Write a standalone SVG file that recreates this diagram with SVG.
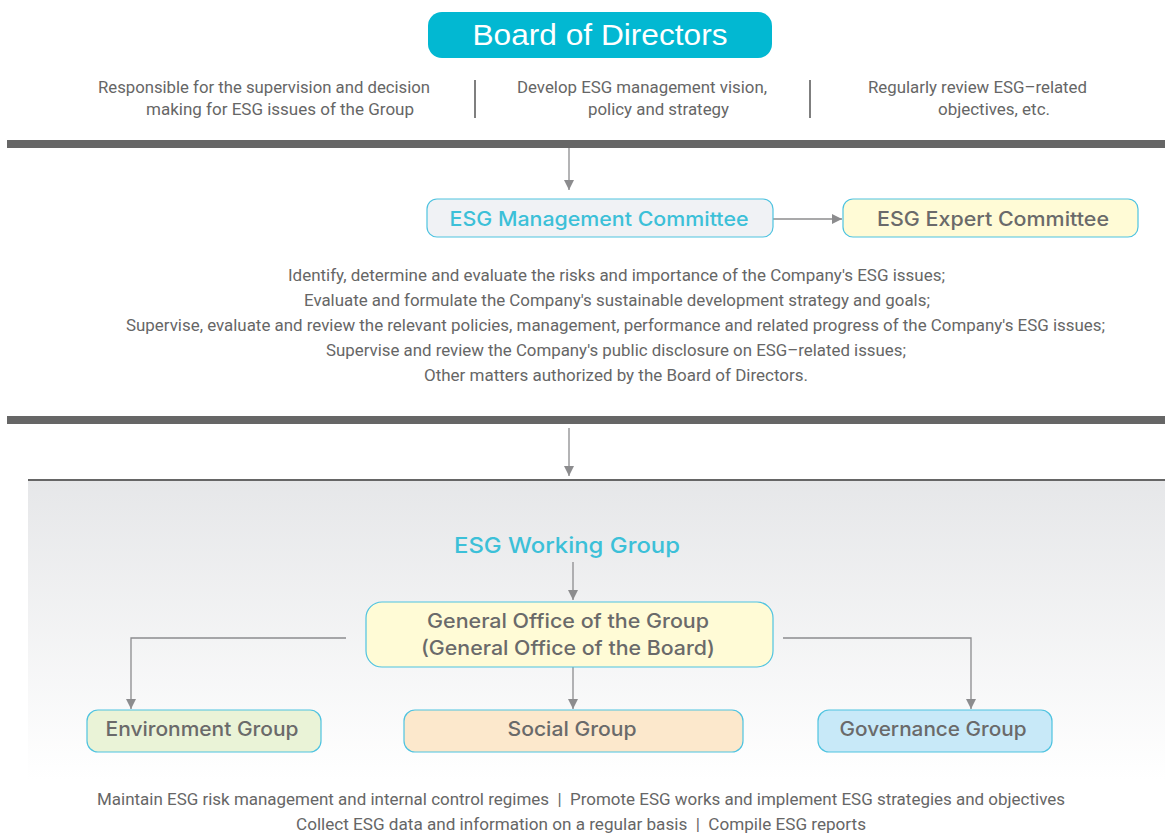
<svg xmlns="http://www.w3.org/2000/svg" width="1165" height="834" viewBox="0 0 1165 834">
<defs>
<linearGradient id="bg" x1="0" y1="0" x2="0" y2="1">
<stop offset="0" stop-color="#e6e7e9"/>
<stop offset="1" stop-color="#ffffff"/>
</linearGradient>
<marker id="ah" viewBox="0 0 10 10" refX="10" refY="5" markerWidth="10" markerHeight="10" markerUnits="userSpaceOnUse" orient="auto">
<path d="M0,0 L10,5 L0,10 z" fill="#8c8c8e"/>
</marker>
<style>
.desc{font-family:Roboto,"Liberation Sans",sans-serif;font-size:16px;fill:#666;}
.box{stroke:#4fc3e0;stroke-width:1.2;}
.lbl{font-family:Inter,"Liberation Sans",Arial,sans-serif;font-size:20px;font-weight:500;fill:#6a6a6a;text-anchor:middle;}
.teal{fill:#3cc0d8;}
.conn{fill:none;stroke:#8c8c8e;stroke-width:1.3;}
.sep{stroke:#555;stroke-width:1.5;}
</style>
</defs>
<rect x="28" y="480" width="1137" height="300" fill="url(#bg)"/>
<line x1="28" y1="480" x2="1165" y2="480" stroke="#666" stroke-width="2"/>
<rect x="7" y="140" width="1158" height="8" fill="#666"/>
<rect x="7" y="416" width="1158" height="8" fill="#666"/>

<g id="connectors">
<line class="conn" x1="569" y1="148" x2="569" y2="190" marker-end="url(#ah)"/>
<line class="conn" x1="773" y1="219" x2="842" y2="219" marker-end="url(#ah)"/>
<line class="conn" x1="569" y1="428" x2="569" y2="476" marker-end="url(#ah)"/>
<line class="conn" x1="573" y1="562" x2="573" y2="600" marker-end="url(#ah)"/>
<polyline class="conn" points="346,638 131,638 131,709" marker-end="url(#ah)"/>
<polyline class="conn" points="783,638 971,638 971,709" marker-end="url(#ah)"/>
<line class="conn" x1="573" y1="667" x2="573" y2="709" marker-end="url(#ah)"/>
</g>

<g id="board">
<rect x="428" y="12" width="344" height="46" rx="14" fill="#02b8d2"/>
<text x="600" y="45" text-anchor="middle" font-family="'Liberation Sans',Arial,sans-serif" font-size="29" fill="#fff" textLength="255" lengthAdjust="spacingAndGlyphs">Board of Directors</text>
</g>
<g id="board-desc">
<text class="desc" x="98" y="93" textLength="332" lengthAdjust="spacingAndGlyphs">Responsible for the supervision and decision</text>
<text class="desc" x="146" y="115" textLength="268" lengthAdjust="spacingAndGlyphs">making for ESG issues of the Group</text>
<line class="sep" x1="475" y1="80" x2="475" y2="118"/>
<text class="desc" x="517" y="93" textLength="250" lengthAdjust="spacingAndGlyphs">Develop ESG management vision,</text>
<text class="desc" x="588" y="115" textLength="141" lengthAdjust="spacingAndGlyphs">policy and strategy</text>
<line class="sep" x1="810" y1="80" x2="810" y2="118"/>
<text class="desc" x="868" y="93" textLength="219" lengthAdjust="spacingAndGlyphs">Regularly review ESG–related</text>
<text class="desc" x="938" y="115" textLength="112" lengthAdjust="spacingAndGlyphs">objectives, etc.</text>
</g>

<g id="mgmt">
<rect class="box" x="427" y="199" width="346" height="38" rx="10" fill="#f0f2f5"/>
<text class="lbl teal" x="599" y="226" textLength="299" lengthAdjust="spacingAndGlyphs">ESG Management Committee</text>
</g>
<g id="expert">
<rect class="box" x="843" y="199" width="295" height="38" rx="10" fill="#fffbd6"/>
<text class="lbl" x="993" y="226" textLength="232" lengthAdjust="spacingAndGlyphs">ESG Expert Committee</text>
</g>
<g id="mgmt-desc">
<text class="desc" x="288" y="281" textLength="657" lengthAdjust="spacingAndGlyphs">Identify, determine and evaluate the risks and importance of the Company's ESG issues;</text>
<text class="desc" x="304" y="306" textLength="626" lengthAdjust="spacingAndGlyphs">Evaluate and formulate the Company's sustainable development strategy and goals;</text>
<text class="desc" x="126" y="331" textLength="979" lengthAdjust="spacingAndGlyphs">Supervise, evaluate and review the relevant policies, management, performance and related progress of the Company's ESG issues;</text>
<text class="desc" x="326" y="356" textLength="580" lengthAdjust="spacingAndGlyphs">Supervise and review the Company's public disclosure on ESG–related issues;</text>
<text class="desc" x="424" y="381" textLength="384" lengthAdjust="spacingAndGlyphs">Other matters authorized by the Board of Directors.</text>
</g>

<g id="working">
<text class="lbl teal" x="567" y="553" style="font-size:22px" textLength="226" lengthAdjust="spacingAndGlyphs">ESG Working Group</text>
</g>
<g id="office">
<rect class="box" x="366" y="602" width="407" height="65" rx="16" fill="#fffbd6"/>
<text class="lbl" x="568" y="628" textLength="282" lengthAdjust="spacingAndGlyphs">General Office of the Group</text>
<text class="lbl" x="568" y="655" textLength="294" lengthAdjust="spacingAndGlyphs">(General Office of the Board)</text>
</g>
<g id="env">
<rect class="box" x="87" y="710" width="234" height="42" rx="11" fill="#eaf3d7"/>
<text class="lbl" x="202" y="736" textLength="193" lengthAdjust="spacingAndGlyphs">Environment Group</text>
</g>
<g id="social">
<rect class="box" x="404" y="710" width="339" height="42" rx="11" fill="#fce8cc"/>
<text class="lbl" x="572" y="736" textLength="129" lengthAdjust="spacingAndGlyphs">Social Group</text>
</g>
<g id="gov">
<rect class="box" x="818" y="710" width="234" height="42" rx="11" fill="#c8e9f8"/>
<text class="lbl" x="933" y="736" textLength="187" lengthAdjust="spacingAndGlyphs">Governance Group</text>
</g>
<g id="working-desc">
<text class="desc" x="97" y="805" textLength="968" lengthAdjust="spacingAndGlyphs">Maintain ESG risk management and internal control regimes &#160;|&#160; Promote ESG works and implement ESG strategies and objectives</text>
<text class="desc" x="296" y="830" textLength="570" lengthAdjust="spacingAndGlyphs">Collect ESG data and information on a regular basis &#160;|&#160; Compile ESG reports</text>
</g>
</svg>
